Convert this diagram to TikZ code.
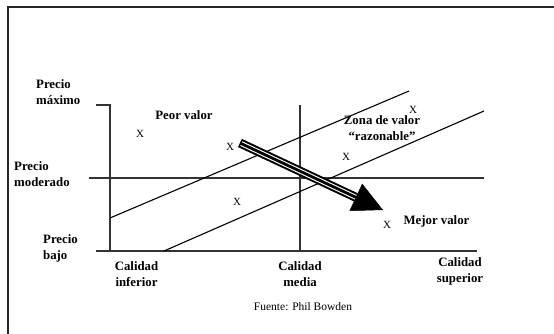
\documentclass[tikz,border=0pt]{standalone}
\usepackage{fontspec}
\setmainfont{Liberation Serif}
\usetikzlibrary{arrows.meta}

\begin{document}
\begin{tikzpicture}[x=1pt,y=-1pt,
  lbl/.style={font=\fontsize{12.8}{16}\selectfont\bfseries, inner sep=0pt},
  mrk/.style={font=\fontsize{11}{13}\selectfont, inner sep=0pt},
  axis/.style={draw=black!80, line width=1.5pt},
  diag/.style={draw, line width=1.1pt}]
\path[use as bounding box] (0,0) rectangle (554,334);

% frame
\draw[black!85, line width=2pt] (8,334) -- (8,7) -- (554,7);

% axes and grid lines
\coordinate (tk) at (96,105);
\coordinate (ytop) at (110,105);
\coordinate (o) at (110,251);
\coordinate (bl) at (96,251);
\coordinate (br) at (477,251);
\coordinate (ml) at (89,178);
\coordinate (mr) at (484,178);
\coordinate (vt) at (300,105);
\coordinate (vb) at (300,251);
\coordinate (d1a) at (110,218);
\coordinate (d1b) at (409,91);
\coordinate (d2a) at (164,251);
\coordinate (d2b) at (484,111);

\path[axis] (tk) -- (ytop) -- (o);
\path[axis] (bl) -- (br);
\path[axis] (ml) -- (mr);
\path[axis] (vt) -- (vb);
\path[diag] (d1a) -- (d1b);
\path[diag] (d2a) -- (d2b);

% labels
\node[lbl, align=left, anchor=west] (pmax) at (36,92) {Precio\\máximo};
\node[lbl, align=left, anchor=west] (pmod) at (14,174) {Precio\\moderado};
\node[lbl, align=left, anchor=west] (pbajo) at (43,248) {Precio\\bajo};
\node[lbl] (peor) at (184,115) {Peor valor};
\node[lbl, align=center] (zona) at (382,128) {Zona de valor\\“razonable”};
\node[lbl] (mejor) at (436.5,221) {Mejor valor};
\node[lbl, align=center] (cinf) at (136.5,274) {Calidad\\inferior};
\node[lbl, align=center] (cmed) at (300,274) {Calidad\\media};
\node[lbl, align=center] (csup) at (460,271) {Calidad\\superior};
\node[font=\fontsize{11.5}{14}\selectfont, inner sep=0pt] (fuente) at (303,307) {Fuente: Phil Bowden};

% marks
\node[mrk] (x1) at (140,134) {X};
\node[mrk] (x2) at (230,147) {X};
\node[mrk] (x3) at (237,202) {X};
\node[mrk] (x4) at (346,157) {X};
\node[mrk] (x5) at (413,110) {X};
\node[mrk] (x6) at (387,225) {X};

% big arrow
\coordinate (a0) at (240,143);
\coordinate (hb) at (355.8,197.3);
\coordinate (tip) at (383,210);
\draw[line width=9pt] (a0) -- (hb);
\draw[white, line width=5pt, shorten <=1.5pt] (a0) -- (hb);
\draw[line width=2.8pt] (a0) -- (hb);
\draw[line width=0.5pt, -{Triangle[length=30pt,width=30pt]}] (hb) -- (tip);
\end{tikzpicture}
\end{document}
